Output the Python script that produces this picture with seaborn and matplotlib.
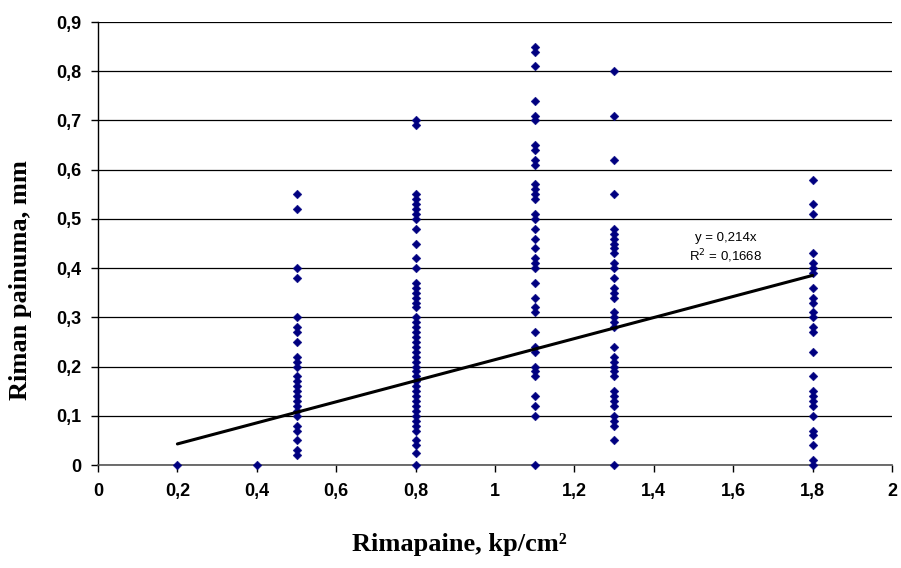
import numpy as np
import pandas as pd
import matplotlib
matplotlib.use("Agg")
import matplotlib.pyplot as plt
import seaborn as sns

# Measured deflection (mm) at each load level (kp/cm2)
load_levels = [0.2, 0.4, 0.5, 0.8, 1.1, 1.3, 1.8]
defl_02 = [0.0]
defl_04 = [0.0]
defl_05 = [0.55, 0.52, 0.40, 0.38, 0.30, 0.28, 0.27, 0.25, 0.22, 0.21, 0.20,
           0.18, 0.17, 0.16, 0.15, 0.14, 0.13, 0.12, 0.11, 0.10, 0.08, 0.07,
           0.05, 0.03, 0.02]
defl_08 = [0.70, 0.69, 0.55, 0.54, 0.53, 0.52, 0.51, 0.50, 0.48, 0.45, 0.42,
           0.40, 0.37, 0.36, 0.35, 0.34, 0.33, 0.32, 0.30, 0.29, 0.28, 0.27,
           0.26, 0.25, 0.24, 0.23, 0.22, 0.21, 0.20, 0.19, 0.18, 0.17, 0.16,
           0.15, 0.14, 0.13, 0.12, 0.11, 0.10, 0.09, 0.08, 0.07, 0.05, 0.04,
           0.025, 0.0]
defl_11 = [0.85, 0.84, 0.81, 0.74, 0.71, 0.70, 0.65, 0.64, 0.62, 0.61, 0.57,
           0.56, 0.55, 0.54, 0.51, 0.50, 0.48, 0.46, 0.44, 0.42, 0.41, 0.40,
           0.37, 0.34, 0.32, 0.31, 0.27, 0.24, 0.23, 0.20, 0.19, 0.18, 0.14,
           0.12, 0.10, 0.0]
defl_13 = [0.80, 0.71, 0.62, 0.55, 0.48, 0.47, 0.46, 0.45, 0.44, 0.43, 0.41,
           0.40, 0.38, 0.36, 0.35, 0.34, 0.31, 0.30, 0.29, 0.28, 0.24, 0.22,
           0.21, 0.20, 0.19, 0.18, 0.15, 0.14, 0.13, 0.12, 0.10, 0.09, 0.08,
           0.05, 0.0]
defl_18 = [0.58, 0.53, 0.51, 0.43, 0.41, 0.40, 0.39, 0.36, 0.34, 0.33, 0.31,
           0.30, 0.28, 0.27, 0.23, 0.18, 0.15, 0.14, 0.13, 0.12, 0.10, 0.07,
           0.06, 0.04, 0.01, 0.0]
deflections = [defl_02, defl_04, defl_05, defl_08, defl_11, defl_13, defl_18]

# Linear trend through the origin
slope = 0.214
r_squared = 0.1668

x_ticks = [0, 0.2, 0.4, 0.6, 0.8, 1.0, 1.2, 1.4, 1.6, 1.8, 2.0]
x_tick_labels = ["0", "0,2", "0,4", "0,6", "0,8", "1", "1,2", "1,4", "1,6", "1,8", "2"]
y_ticks = [0, 0.1, 0.2, 0.3, 0.4, 0.5, 0.6, 0.7, 0.8, 0.9]
y_tick_labels = ["0", "0,1", "0,2", "0,3", "0,4", "0,5", "0,6", "0,7", "0,8", "0,9"]

df = pd.DataFrame({
    "load": np.concatenate([[x] * len(v) for x, v in zip(load_levels, deflections)]),
    "deflection": np.concatenate(deflections),
})
trend = pd.DataFrame({"load": [min(load_levels), max(load_levels)]})
trend["deflection"] = slope * trend["load"]

sns.set_style("white")
plt.rcParams["font.family"] = ["Liberation Sans", "DejaVu Sans"]
plt.rcParams.update({
    "text.color": "black",
    "axes.labelcolor": "black",
    "xtick.color": "black",
    "ytick.color": "black",
})

fig = plt.figure(figsize=(9.01, 5.68), dpi=100)
ax = fig.add_axes([98 / 901, 1 - 465 / 568, (892 - 98) / 901, (465 - 22) / 568])

ax.set_xlim(0, 2)
ax.set_ylim(0, 0.9)
ax.set_yticks(y_ticks)
ax.set_xticks(x_ticks)
ax.yaxis.grid(True, color="black", linewidth=0.9)
ax.set_axisbelow(True)

sns.scatterplot(data=df, x="load", y="deflection", marker="D", s=20,
                color="#000080", edgecolor="#000080", linewidth=0.3,
                ax=ax, zorder=3, clip_on=False)
sns.lineplot(data=trend, x="load", y="deflection", color="black",
             linewidth=2.2, ax=ax, zorder=4)

ax.set_xticklabels(x_tick_labels, fontweight="bold", fontsize=13, color="black")
ax.set_yticklabels(y_tick_labels, fontweight="bold", fontsize=13, color="black")
ax.tick_params(axis="x", direction="out", length=5, width=1, color="black",
               bottom=True, pad=8)
ax.tick_params(axis="y", direction="out", length=5, width=1, color="black",
               left=True, pad=7)

for side in ("top", "right"):
    ax.spines[side].set_visible(False)
ax.spines["left"].set_color("black")
ax.spines["bottom"].set_color("#555555")
ax.spines["left"].set_linewidth(1.0)
ax.spines["bottom"].set_linewidth(1.2)

serif = ["Liberation Serif", "DejaVu Serif"]
ax.set_xlabel("Rimapaine, kp/cm²", family=serif, fontweight="bold", fontsize=19,
              color="black")
ax.xaxis.set_label_coords((459 - 98) / 794, (465 - 545) / 443)
ax.xaxis.label.set_va("center")
ax.set_ylabel("Riman painuma, mm", family=serif, fontweight="bold", fontsize=19,
              color="black")
ax.yaxis.set_label_coords((21 - 98) / 794, (465 - 280) / 443)
ax.yaxis.label.set_va("center")

ax.text(1.58, 0.462, f"y = {slope:.3f}x".replace(".", ","), ha="center",
        va="center", fontsize=9.5, color="black")
ax.text(1.58, 0.424, f"R$^2$ = {r_squared:.4f}".replace(".", ","), ha="center",
        va="center", fontsize=9.5, color="black")

fig.savefig("out.png", dpi=100)
